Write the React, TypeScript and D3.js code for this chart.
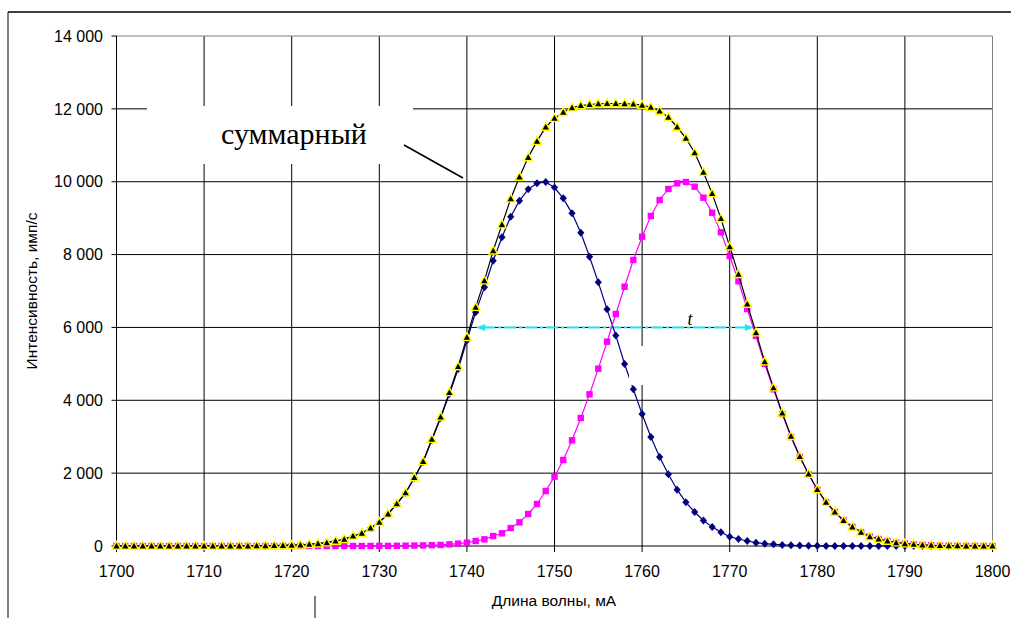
import React from "react";
import * as d3 from "d3";

// Wavelength grid (mÅ)
const wavelengths = [
  1700, 1701, 1702, 1703, 1704, 1705, 1706, 1707, 1708, 1709,
  1710, 1711, 1712, 1713, 1714, 1715, 1716, 1717, 1718, 1719,
  1720, 1721, 1722, 1723, 1724, 1725, 1726, 1727, 1728, 1729,
  1730, 1731, 1732, 1733, 1734, 1735, 1736, 1737, 1738, 1739,
  1740, 1741, 1742, 1743, 1744, 1745, 1746, 1747, 1748, 1749,
  1750, 1751, 1752, 1753, 1754, 1755, 1756, 1757, 1758, 1759,
  1760, 1761, 1762, 1763, 1764, 1765, 1766, 1767, 1768, 1769,
  1770, 1771, 1772, 1773, 1774, 1775, 1776, 1777, 1778, 1779,
  1780, 1781, 1782, 1783, 1784, 1785, 1786, 1787, 1788, 1789,
  1790, 1791, 1792, 1793, 1794, 1795, 1796, 1797, 1798, 1799,
  1800,
];

// First line (navy diamonds)
const lineA = [
  0, 0, 0, 0, 0, 0, 0, 0, 0, 0,
  0, 0, 0, 1, 2, 3, 5, 8, 12, 16,
  22, 30, 45, 65, 91, 137, 183, 274, 348, 494,
  650, 878, 1153, 1455, 1867, 2306, 2910, 3514, 4170, 4860,
  5640, 6420, 7100, 7830, 8474, 9040, 9480, 9790, 9960, 9990,
  9840, 9544, 9132, 8601, 7942, 7238, 6497, 5780, 4996, 4302,
  3623, 2992, 2443, 1968, 1546, 1200, 933, 700, 525, 376,
  256, 192, 137, 91, 64, 45, 30, 20, 12, 8,
  5, 3, 2, 1, 0, 0, 0, 0, 0, 0,
  0, 0, 0, 0, 0, 0, 0, 0, 0, 0,
  0,
];

// Second line (magenta squares)
const lineB = [
  0, 0, 0, 0, 0, 0, 0, 0, 0, 0,
  0, 0, 0, 0, 0, 0, 0, 0, 0, 0,
  0, 0, 0, 0, 0, 0, 0, 0, 0, 1,
  2, 3, 5, 8, 12, 16, 22, 30, 45, 65,
  91, 137, 183, 274, 348, 494, 650, 878, 1153, 1510,
  1903, 2361, 2901, 3514, 4164, 4868, 5608, 6369, 7118, 7851,
  8491, 9059, 9498, 9800, 9956, 9992, 9863, 9561, 9149, 8611,
  7961, 7266, 6506, 5765, 4996, 4302, 3623, 2992, 2443, 1968,
  1546, 1200, 933, 700, 525, 376, 256, 192, 137, 91,
  64, 45, 30, 20, 12, 8, 5, 3, 2, 1,
  0,
];

// Total intensity (black line, yellow-edged triangles)
const total = [
  0, 0, 0, 0, 0, 0, 0, 0, 0, 0,
  0, 0, 0, 1, 2, 3, 5, 8, 12, 16,
  22, 30, 45, 65, 91, 137, 183, 274, 348, 495,
  652, 881, 1158, 1463, 1879, 2322, 2932, 3544, 4215, 4925,
  5731, 6557, 7283, 8104, 8822, 9534, 10130, 10668, 11113, 11500,
  11743, 11905, 12033, 12090, 12120, 12140, 12145, 12145, 12140, 12130,
  12100, 12045, 11941, 11768, 11502, 11192, 10796, 10261, 9674, 8987,
  8217, 7458, 6643, 5856, 5060, 4347, 3653, 3012, 2455, 1976,
  1551, 1203, 935, 701, 525, 376, 256, 192, 137, 91,
  64, 45, 30, 20, 12, 8, 5, 3, 2, 1,
  0,
];

const xTicks = [1700, 1710, 1720, 1730, 1740, 1750, 1760, 1770, 1780, 1790, 1800];
const yTicks = [0, 2000, 4000, 6000, 8000, 10000, 12000, 14000];

const xTitle = "Длина волны, мА";
const yTitle = "Интенсивность, имп/с";
const sumLabel = "суммарный";
const widthLabel = "t";
// Level at which the width arrow is drawn and its two wavelength ends
const arrowLevel = 6000;
const arrowFrom = 1741.05;
const arrowTo = 1772.75;

const W = 1011;
const H = 618;
const left = 116.5;
const right = 992.5;
const top = 36;
const bottom = 546;

const sans = "'Liberation Sans', Arial, sans-serif";
const serif = "'Liberation Serif', 'Times New Roman', serif";

const fmt = (v: number) => d3.format(",")(v).replace(/,/g, " ");

export default function App() {
  const x = d3.scaleLinear().domain([1700, 1800]).range([left, right]);
  const y = d3.scaleLinear().domain([0, 14000]).range([bottom, top]);

  const mk = (vals: number[]) =>
    d3
      .line<number>()
      .x((_, i) => x(wavelengths[i]))
      .y((v) => y(v))(vals) as string;

  const diamond = (cx: number, cy: number) =>
    `M${cx},${cy - 4}L${cx + 3.6},${cy}L${cx},${cy + 4}L${cx - 3.6},${cy}Z`;
  const tri = (cx: number, cy: number) =>
    `M${cx},${cy - 4.6}L${cx + 4.3},${cy + 3.2}L${cx - 4.3},${cy + 3.2}Z`;

  const ay = y(arrowLevel);
  const ax0 = x(arrowFrom);
  const ax1 = x(arrowTo);

  return (
    <svg
      width={W}
      height={H}
      style={{ position: "absolute", left: 0, top: 0, background: "#fff" }}
    >
      {/* outer frame */}
      <line x1={8} y1={12} x2={W} y2={12} stroke="#000" strokeWidth={1.5} />
      <line x1={8} y1={12} x2={8} y2={H} stroke="#000" strokeWidth={1} />
      <line x1={315} y1={596} x2={315} y2={H} stroke="#000" strokeWidth={1} />

      {/* grid */}
      {yTicks
        .filter((t) => t > 0 && t < 14000)
        .map((t) => (
          <line key={"gy" + t} x1={left} x2={right} y1={y(t)} y2={y(t)} stroke="#000" strokeWidth={1} />
        ))}
      {xTicks
        .filter((t) => t > 1700 && t < 1800)
        .map((t) => (
          <line key={"gx" + t} x1={x(t)} x2={x(t)} y1={top} y2={bottom} stroke="#000" strokeWidth={1} />
        ))}
      {/* plot border */}
      <line x1={left} x2={right} y1={top} y2={top} stroke="#808080" strokeWidth={1} />
      <line x1={right} x2={right} y1={top} y2={bottom} stroke="#808080" strokeWidth={1} />

      {/* axes */}
      <line x1={left} x2={left} y1={top} y2={bottom} stroke="#000" strokeWidth={1} />
      <line x1={left} x2={right} y1={bottom} y2={bottom} stroke="#000" strokeWidth={1} />
      {yTicks.map((t) => (
        <g key={"ty" + t}>
          <line x1={left - 5} x2={left} y1={y(t)} y2={y(t)} stroke="#000" />
          <text
            x={103}
            y={y(t)}
            dy="0.36em"
            textAnchor="end"
            fontFamily={sans}
            fontSize={16}
            fill="#000"
          >
            {fmt(t)}
          </text>
        </g>
      ))}
      {xTicks.map((t) => (
        <g key={"tx" + t}>
          <line x1={x(t)} x2={x(t)} y1={bottom} y2={bottom + 6} stroke="#000" />
          <text
            x={x(t)}
            y={577}
            textAnchor="middle"
            fontFamily={sans}
            fontSize={16}
            fill="#000"
          >
            {t}
          </text>
        </g>
      ))}
      <text x={554} y={606} textAnchor="middle" fontFamily={sans} fontSize={15.5} fill="#000">
        {xTitle}
      </text>
      <text
        transform={`translate(37,291) rotate(-90)`}
        textAnchor="middle"
        fontFamily={sans}
        fontSize={15.5}
        fill="#000"
      >
        {yTitle}
      </text>

      {/* label box with leader line */}
      <rect x={147} y={106} width={266} height={58} fill="#fff" />
      <text x={221} y={144} fontFamily={serif} fontSize={30} fill="#000">
        {sumLabel}
      </text>
      <line x1={404} y1={145} x2={463} y2={178} stroke="#000" strokeWidth={1.6} />

      {/* width arrow */}
      <line
        x1={ax0 + 7}
        x2={ax1 - 7}
        y1={ay}
        y2={ay}
        stroke="#22E4F4"
        strokeWidth={2}
        strokeDasharray="12,3,3,3"
      />
      <path d={`M${ax0},${ay}L${ax0 + 9},${ay - 3.5}L${ax0 + 9},${ay + 3.5}Z`} fill="#22E4F4" />
      <path d={`M${ax1},${ay}L${ax1 - 9},${ay - 3.5}L${ax1 - 9},${ay + 3.5}Z`} fill="#22E4F4" />
      <text x={690} y={325} textAnchor="middle" fontFamily={serif} fontStyle="italic" fontSize={18} fill="#000">
        {widthLabel}
      </text>

      {/* series A */}
      <path d={mk(lineA)} fill="none" stroke="#000080" strokeWidth={1.2} />
      {/* blank patch left by an empty text frame */}
      <rect x={629} y={346} width={18} height={39} fill="#fff" />
      {lineA.map((v, i) => (
        <path key={"a" + i} d={diamond(x(wavelengths[i]), y(v))} fill="#000080" />
      ))}

      {/* series B */}
      <path d={mk(lineB)} fill="none" stroke="#FF00FF" strokeWidth={1.2} />
      {lineB.map((v, i) => {
        const cx = x(wavelengths[i]);
        const cy = y(v);
        return <rect key={"b" + i} x={cx - 3.2} y={cy - 3.2} width={6.4} height={6.4} fill="#FF00FF" />;
      })}

      {/* total */}
      <path d={mk(total)} fill="none" stroke="#000" strokeWidth={1.2} />
      {total.map((v, i) => (
        <path
          key={"s" + i}
          d={tri(x(wavelengths[i]), y(v))}
          fill="#000"
          stroke="#FFFF00"
          strokeWidth={1.4}
          strokeLinejoin="miter"
        />
      ))}
    </svg>
  );
}
